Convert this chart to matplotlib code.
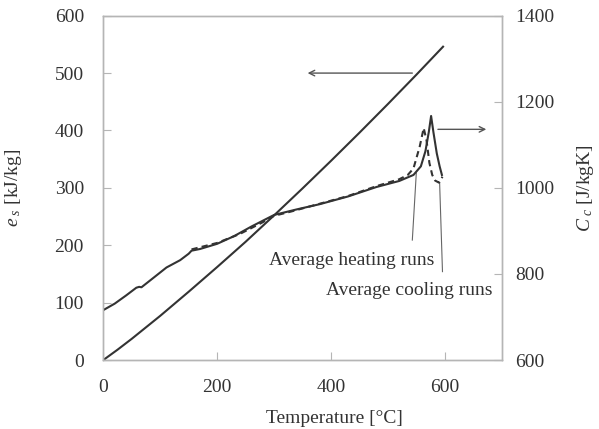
import numpy as np
import matplotlib
matplotlib.use('Agg')
import matplotlib.pyplot as plt

# sensible heat e_s [kJ/kg] vs temperature
t_es = [0, 25, 50, 100, 150, 200, 250, 300, 350, 400, 450, 500, 550, 597]
es = [0, 18, 37, 77, 119, 162, 206, 252, 299, 347, 396, 446, 497, 546]

# specific heat, heating runs [J/kgK]
t_heat = [0, 20, 40, 58, 63, 67, 90, 111, 135, 150, 155, 170, 200, 230, 260,
          300, 340, 380, 430, 480, 520, 545, 558, 566, 572, 576, 580, 586, 591, 595]
cp_heat = [716, 731, 750, 768, 770, 769, 793, 815, 832, 847, 854, 858, 870, 888, 910,
           937, 950, 962, 980, 1002, 1016, 1030, 1050, 1085, 1130, 1167, 1130, 1080, 1050, 1030]

# specific heat, cooling runs [J/kgK]
t_cool = [155, 200, 240, 280, 300, 330, 380, 430, 480, 520, 535, 545, 556, 563,
          568, 573, 578, 583, 590, 596]
cp_cool = [857, 872, 893, 920, 935, 945, 963, 981, 1004, 1020, 1030, 1045, 1096, 1139,
           1110, 1058, 1030, 1017, 1012, 1026]

plt.rcParams['font.family'] = 'Liberation Serif'
plt.rcParams['mathtext.fontset'] = 'custom'
plt.rcParams['mathtext.rm'] = 'Liberation Serif'
plt.rcParams['mathtext.it'] = 'Liberation Serif:italic'

ink = '#333333'
grey = '#b5b5b5'
fs = 14

fig = plt.figure(figsize=(5.99, 4.29), dpi=100)
ax = fig.add_axes([0.1725, 0.1608, 0.665, 0.8026])
ax2 = ax.twinx()

ax.plot(t_es, es, color=ink, lw=1.5)
ax2.plot(t_heat, cp_heat, color=ink, lw=1.5)
ax2.plot(t_cool, cp_cool, color=ink, lw=1.5, ls=(0, (3, 2)))

ax.set_xlim(0, 700)
ax.set_ylim(0, 600)
ax2.set_ylim(600, 1400)
ax.set_xticks([0, 200, 400, 600])
ax.set_yticks(range(0, 601, 100))
ax2.set_yticks(range(600, 1401, 200))

for a in (ax, ax2):
    for s in a.spines.values():
        s.set_color(grey)
        s.set_linewidth(1.0)
ax.tick_params(direction='in', length=6, color=grey, labelsize=fs, labelcolor=ink, pad=14)
ax2.tick_params(direction='in', length=6, color=grey, labelsize=fs, labelcolor=ink, pad=10)

ax.set_xlabel('Temperature [°C]', fontsize=fs, color=ink)
ax.xaxis.set_label_coords(0.58, -0.145)
ax.set_ylabel(r'$e_{\ s}$ [kJ/kg]', fontsize=fs, color=ink)
ax.yaxis.set_label_coords(-0.2, 0.5)
ax2.set_ylabel(r'$C_{\ c}$ [J/kgK]', fontsize=fs, color=ink)
ax2.yaxis.set_label_coords(1.185, 0.5)

# arrows pointing to each axis
arrow = dict(arrowstyle='->', color='#555555', lw=1.0, shrinkA=0, shrinkB=0)
ax.annotate('', xy=(359, 500), xytext=(543, 500), arrowprops=arrow)
ax.annotate('', xy=(673, 402), xytext=(588, 402), arrowprops=arrow)

# leader lines and labels
ax.plot([550, 543], [326, 209], color='#666666', lw=0.8)
ax.plot([591, 596], [308, 154], color='#666666', lw=0.8)
ax.text(582, 173, 'Average heating runs', ha='right', va='center', fontsize=fs, color=ink)
ax.text(684, 122, 'Average cooling runs', ha='right', va='center', fontsize=fs, color=ink)

fig.savefig('out.png', dpi=100)
